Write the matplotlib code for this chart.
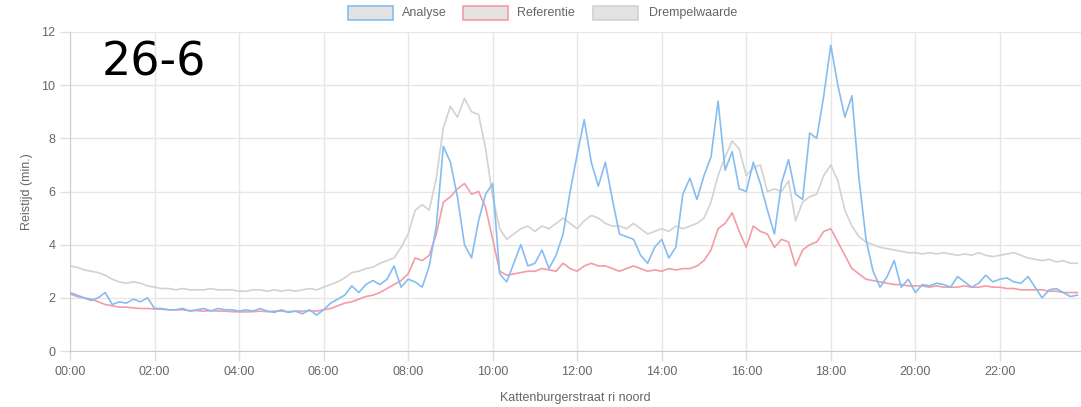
import matplotlib
matplotlib.use("Agg")
import matplotlib.pyplot as plt
from matplotlib.patches import Rectangle
import numpy as np

# 10-minuten intervallen, 00:00 t/m 23:50
minuten = np.arange(0, 1440, 10)
uren = minuten / 60.0

analyse = [
    2.2, 2.1, 2.0, 1.9, 2.0, 2.2,
    1.75, 1.85, 1.8, 1.95, 1.85, 2.0,
    1.6, 1.6, 1.55, 1.55, 1.6, 1.5,
    1.55, 1.6, 1.5, 1.6, 1.55, 1.55,
    1.5, 1.55, 1.5, 1.6, 1.5, 1.45,
    1.55, 1.45, 1.5, 1.4, 1.55, 1.35,
    1.55, 1.8, 1.95, 2.1, 2.45, 2.2,
    2.5, 2.65, 2.5, 2.7, 3.2, 2.4,
    2.7, 2.6, 2.4, 3.2, 4.7, 7.7,
    7.1, 5.8, 4.0, 3.5, 4.9, 5.9,
    6.3, 2.9, 2.6, 3.3, 4.0, 3.2,
    3.3, 3.8, 3.1, 3.6, 4.4, 6.0,
    7.4, 8.7, 7.1, 6.2, 7.1, 5.7,
    4.4, 4.3, 4.2, 3.6, 3.3, 3.9,
    4.2, 3.5, 3.9, 5.9, 6.5, 5.7,
    6.6, 7.3, 9.4, 6.8, 7.5, 6.1,
    6.0, 7.1, 6.3, 5.3, 4.4, 6.3,
    7.2, 5.9, 5.7, 8.2, 8.0, 9.6,
    11.5, 10.0, 8.8, 9.6, 6.5, 4.2,
    3.0, 2.4, 2.8, 3.4, 2.4, 2.7,
    2.2, 2.5, 2.45, 2.55, 2.5, 2.4,
    2.8, 2.6, 2.4, 2.55, 2.85, 2.6,
    2.7, 2.75, 2.6, 2.55, 2.8, 2.4,
    2.0, 2.3, 2.35, 2.2, 2.05, 2.1,
]

referentie = [
    2.15, 2.05, 2.0, 1.95, 1.85, 1.75,
    1.7, 1.65, 1.65, 1.62, 1.6, 1.6,
    1.58, 1.57, 1.55, 1.55, 1.55, 1.52,
    1.52, 1.5, 1.52, 1.5, 1.5, 1.48,
    1.47, 1.47, 1.48, 1.5, 1.48, 1.5,
    1.5, 1.48, 1.5, 1.5, 1.52, 1.5,
    1.55, 1.6, 1.7, 1.8, 1.85, 1.95,
    2.05, 2.1, 2.2, 2.35, 2.5, 2.65,
    2.9, 3.5, 3.4, 3.6, 4.4, 5.6,
    5.8, 6.1, 6.3, 5.9, 6.0, 5.4,
    4.2, 3.0, 2.85, 2.9, 2.95, 3.0,
    3.0, 3.1, 3.05, 3.0, 3.3, 3.1,
    3.0, 3.2, 3.3, 3.2, 3.2, 3.1,
    3.0, 3.1, 3.2, 3.1, 3.0, 3.05,
    3.0, 3.1, 3.05, 3.1, 3.1, 3.2,
    3.4, 3.8, 4.6, 4.8, 5.2, 4.5,
    3.9, 4.7, 4.5, 4.4, 3.9, 4.2,
    4.1, 3.2, 3.8, 4.0, 4.1, 4.5,
    4.6, 4.1, 3.6, 3.1, 2.9, 2.7,
    2.65, 2.6, 2.55, 2.5, 2.5, 2.45,
    2.45, 2.45, 2.4, 2.45, 2.4, 2.4,
    2.4, 2.45, 2.4, 2.4, 2.45, 2.4,
    2.4, 2.35, 2.35, 2.3, 2.3, 2.3,
    2.3, 2.25, 2.25, 2.2, 2.2, 2.2,
]

drempelwaarde = [
    3.2, 3.15, 3.05, 3.0, 2.95, 2.85,
    2.7, 2.6, 2.55, 2.6, 2.55, 2.45,
    2.4, 2.35, 2.35, 2.3, 2.35, 2.3,
    2.3, 2.3, 2.35, 2.3, 2.3, 2.3,
    2.25, 2.25, 2.3, 2.3, 2.25, 2.3,
    2.25, 2.3, 2.25, 2.3, 2.35, 2.3,
    2.4, 2.5, 2.6, 2.75, 2.95, 3.0,
    3.1, 3.15, 3.3, 3.4, 3.5, 3.9,
    4.4, 5.3, 5.5, 5.3, 6.5, 8.4,
    9.2, 8.8, 9.5, 9.0, 8.9, 7.6,
    5.8, 4.6, 4.2, 4.4, 4.6, 4.7,
    4.5, 4.7, 4.6, 4.8, 5.0, 4.8,
    4.6, 4.9, 5.1, 5.0, 4.8, 4.7,
    4.7, 4.6, 4.8, 4.6, 4.4, 4.5,
    4.6, 4.5, 4.7, 4.6, 4.7, 4.8,
    5.0, 5.6, 6.6, 7.3, 7.9, 7.6,
    6.6, 6.9, 7.0, 6.0, 6.1, 6.0,
    6.4, 4.9, 5.6, 5.8, 5.9, 6.6,
    7.0, 6.4, 5.3, 4.7, 4.3, 4.1,
    4.0, 3.9, 3.85, 3.8, 3.75, 3.7,
    3.7, 3.65, 3.7, 3.65, 3.7, 3.65,
    3.6, 3.65, 3.6, 3.7, 3.6, 3.55,
    3.6, 3.65, 3.7, 3.6, 3.5, 3.45,
    3.4, 3.45, 3.35, 3.4, 3.3, 3.3,
]

reeksen = ["Analyse", "Referentie", "Drempelwaarde"]
kleuren = ["#86bdf0", "#f39ca5", "#d2d2d2"]
tijd_labels = ["00:00", "02:00", "04:00", "06:00", "08:00", "10:00",
               "12:00", "14:00", "16:00", "18:00", "20:00", "22:00"]
tijd_ticks = [0, 2, 4, 6, 8, 10, 12, 14, 16, 18, 20, 22]
y_ticks = [0, 2, 4, 6, 8, 10, 12]

W, H = 1081, 407
plt.rcParams['font.family'] = ['Liberation Sans', 'DejaVu Sans']
fig = plt.figure(figsize=(W / 100, H / 100), dpi=100)
ax = fig.add_axes([70 / W, (H - 351) / H, (W - 70) / W, (351 - 32) / H])

ax.plot(uren, drempelwaarde, color=kleuren[2], lw=1.2, zorder=2)
ax.plot(uren, referentie, color=kleuren[1], lw=1.2, zorder=3)
ax.plot(uren, analyse, color=kleuren[0], lw=1.2, zorder=4)

ax.set_xlim(0, 23.92)
ax.set_ylim(0, 12)
ax.set_xticks(tijd_ticks)
ax.set_xticklabels(tijd_labels)
ax.set_yticks(y_ticks)
ax.grid(True, color='#e6e6e6', lw=1, zorder=0)
ax.tick_params(axis='both', colors='#e0e0e0', labelcolor='#666666',
               labelsize=9, length=7, width=1)
for kant in ['top', 'right']:
    ax.spines[kant].set_visible(False)
for kant in ['left', 'bottom']:
    ax.spines[kant].set_color('#cccccc')
ax.set_ylabel('Reistijd (min.)', color='#666666', fontsize=9, labelpad=6)
fig.text(575 / W, (H - 398) / H, 'Kattenburgerstraat ri noord', color='#666666',
         fontsize=9, ha='center', va='center')

# legenda in Chart.js stijl
boxen = [(348, 402), (463, 517), (593, 649)]
for (bx, tx), naam, kleur in zip(boxen, reeksen, kleuren):
    fig.patches.append(Rectangle((bx / W, (H - 20) / H), 45 / W, 14 / H,
                                 transform=fig.transFigure, facecolor='#e3e3e3',
                                 edgecolor=kleur, lw=1.2))
    fig.text(tx / W, (H - 13) / H, naam, fontsize=9, color='#666666',
             ha='left', va='center')

fig.text(102 / W, (H - 75) / H, '26-6', fontsize=33, color='black',
         family=['DejaVu Sans'], ha='left', va='baseline')

fig.savefig('out.png', dpi=100)
